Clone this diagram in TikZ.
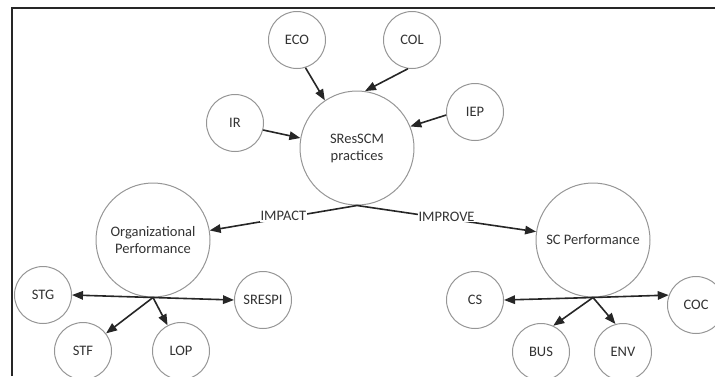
\documentclass[tikz,border=0pt]{standalone}
\usepackage{fontspec}
\setmainfont{Carlito}
\usetikzlibrary{arrows.meta,positioning}
\definecolor{Ring}{RGB}{150,150,150}
\definecolor{Ink}{RGB}{50,50,50}

\begin{document}
\begin{tikzpicture}[on grid,
    ind/.style={circle,draw=Ring,line width=1pt,minimum size=57pt,inner sep=0pt,
                font=\fontsize{14.5}{17}\selectfont,text=Ink},
    con/.style={ind,minimum size=114pt,align=center},
    arr/.style={-{Triangle[length=11pt,width=8.5pt]},line width=1.6pt,black!85},
    lbl/.style={font=\fontsize{14.5}{17}\selectfont,text=black!80,fill=white,inner sep=1pt}]

  \useasboundingbox (0,0) rectangle (715pt,-376pt);
  \draw[line width=1.5pt,black!85] (12pt,-376pt) -- (12pt,-8pt) -- (715pt,-8pt);

  % practices and their drivers
  \node[con] (sres) at (357pt,-148pt) {SResSCM\\practices};
  \node[ind, above left=108pt and 60pt of sres] (eco) {ECO};
  \node[ind, above right=108pt and 55pt of sres] (col) {COL};
  \node[ind, above left=25pt and 122pt of sres] (ir) {IR};
  \node[ind, above right=36pt and 118pt of sres] (iep) {IEP};

  % outcomes
  \node[con, below left=92pt and 204pt of sres] (org) {Organizational\\Performance};
  \node[con, below right=92pt and 236pt of sres] (scp) {SC Performance};

  \node[ind, below left=55pt and 110pt of org] (stg) {STG};
  \node[ind, below right=60pt and 110pt of org] (srespi) {SRESPI};
  \node[ind, below left=111pt and 70pt of org] (stf) {STF};
  \node[ind, below right=111pt and 28pt of org] (lop) {LOP};

  \node[ind, below left=60pt and 118pt of scp] (cs) {CS};
  \node[ind, below right=65pt and 103pt of scp] (coc) {COC};
  \node[ind, below left=112pt and 52pt of scp] (bus) {BUS};
  \node[ind, below right=112pt and 30pt of scp] (env) {ENV};

  \draw[arr] (eco.287) -- (sres.124);
  \draw[arr] (col.262) -- (sres.82);
  \draw[arr] (ir.346) -- (sres.170);
  \draw[arr] (iep.186) -- (sres.22);

  \draw[arr] (sres.south) -- (org) node[lbl,midway,yshift=2pt]{IMPACT};
  \draw[arr] (sres.south) -- (scp) node[lbl,midway,yshift=2pt]{IMPROVE};

  \draw[arr] (org.south) -- (stg.east);
  \draw[arr] (org.south) -- (srespi.west);
  \draw[arr] (org.south) -- (stf);
  \draw[arr] (org.south) -- (lop);

  \draw[arr] (scp.south) -- (cs.east);
  \draw[arr] (scp.south) -- (coc.160);
  \draw[arr] (scp.south) -- (bus.65);
  \draw[arr] (scp.south) -- (env.105);
\end{tikzpicture}
\end{document}
